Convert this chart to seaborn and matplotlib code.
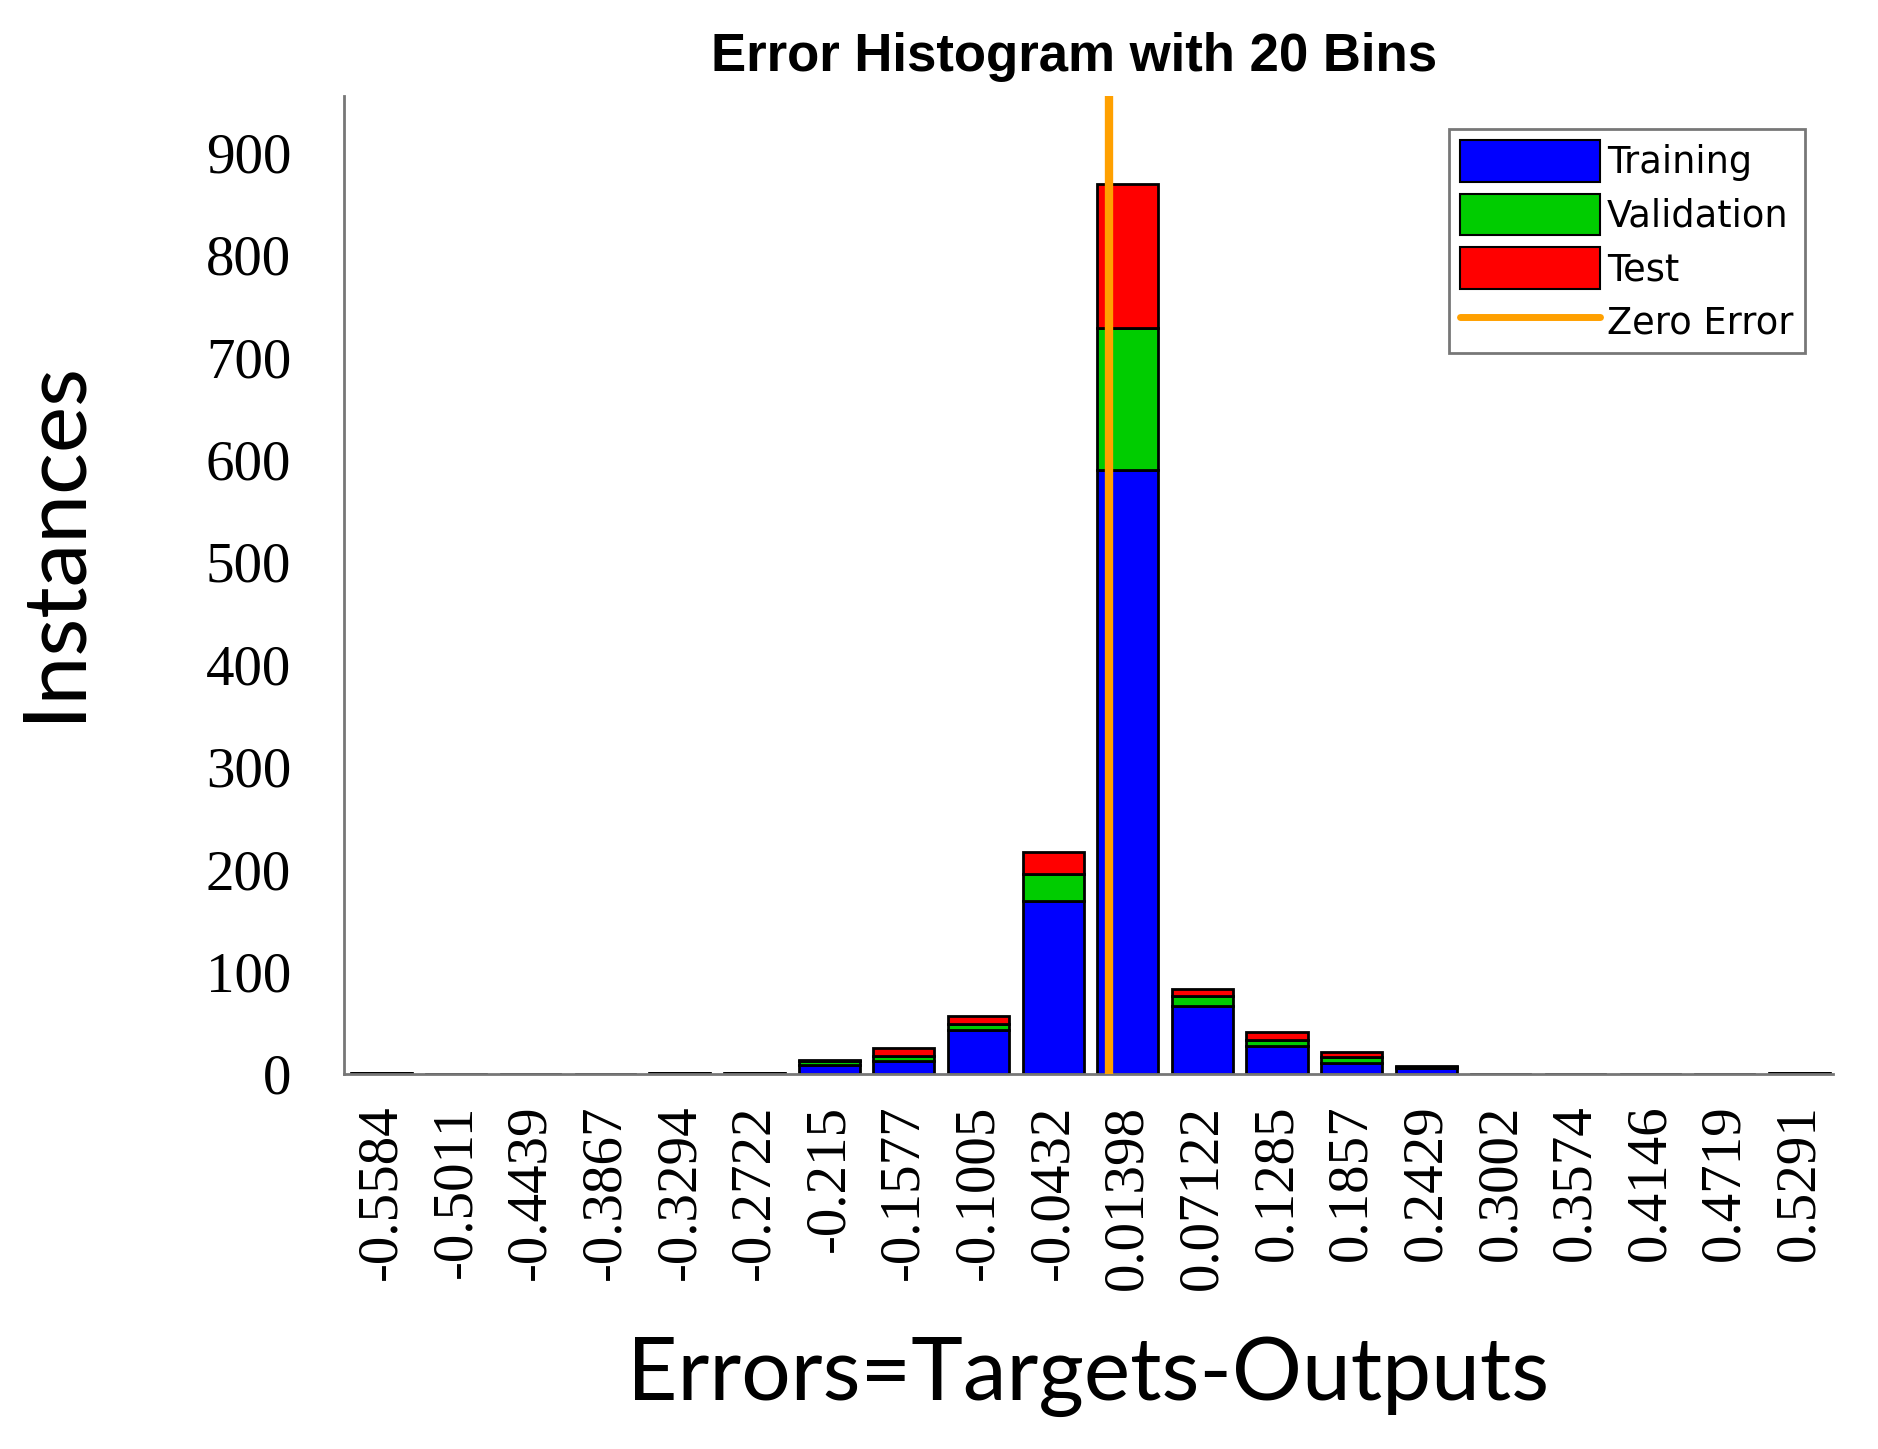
import pandas as pd
import matplotlib
matplotlib.use("Agg")
import matplotlib.pyplot as plt
from matplotlib.patches import Patch
from matplotlib.lines import Line2D
import seaborn as sns

# bin centres and tick labels as printed on the chart
centers = [-0.5584, -0.5011, -0.4439, -0.3867, -0.3294, -0.2722, -0.215, -0.1577,
           -0.1005, -0.0432, 0.01398, 0.07122, 0.1285, 0.1857, 0.2429, 0.3002,
           0.3574, 0.4146, 0.4719, 0.5291]
tick_labels = ["-0.5584", "-0.5011", "-0.4439", "-0.3867", "-0.3294", "-0.2722",
               "-0.215", "-0.1577", "-0.1005", "-0.0432", "0.01398", "0.07122",
               "0.1285", "0.1857", "0.2429", "0.3002", "0.3574", "0.4146",
               "0.4719", "0.5291"]

# instances per bin
training = [1, 0, 0, 0, 1, 1, 9, 13, 43, 169, 590, 66, 27, 11, 6, 0, 0, 0, 0, 1]
validation = [0, 0, 0, 0, 0, 0, 4, 5, 6, 26, 138, 10, 6, 6, 1, 0, 0, 0, 0, 0]
test = [0, 0, 0, 0, 0, 0, 1, 7, 8, 22, 141, 7, 8, 4, 1, 0, 0, 0, 0, 0]

set_names = ["Training", "Validation", "Test"]
colors = {"Training": "#0000FF", "Validation": "#00CC00", "Test": "#FF0000"}
zero_color = "#FFA000"

df = pd.DataFrame({
    "error": centers * 3,
    "count": training + validation + test,
    "set": ["Training"] * 20 + ["Validation"] * 20 + ["Test"] * 20,
})

width = (centers[-1] - centers[0]) / (len(centers) - 1)
edges = [c - width / 2 for c in centers] + [centers[-1] + width / 2]

sns.set_theme(style="white")
plt.rcParams["text.color"] = "black"
plt.rcParams["axes.labelcolor"] = "black"

fig = plt.figure(figsize=(18.78, 14.49), dpi=100)
ax = fig.add_axes([344 / 1878, 1 - 1074 / 1449, 1489 / 1878, 978 / 1449])

# hue order reversed so Training ends up at the bottom of each stack
sns.histplot(data=df, x="error", weights="count", hue="set",
             hue_order=set_names[::-1], palette=colors, multiple="stack",
             bins=edges, shrink=0.82, alpha=1, edgecolor="black",
             linewidth=2, legend=False, ax=ax)

ax.axvline(0, color=zero_color, lw=6, zorder=5)

ax.set_xlim(centers[0] - 0.5 * width, centers[-1] + 0.45 * width)
ax.set_ylim(0, 955)
ax.set_yticks(range(0, 901, 100))
ax.set_xticks(centers)
ax.set_xticklabels(tick_labels, rotation=90, va="top")

for lab in ax.get_xticklabels() + ax.get_yticklabels():
    lab.set_family("Liberation Serif")
    lab.set_fontsize(41)
ax.tick_params(axis="x", direction="in", length=8, width=1.5, pad=22, colors="black")
ax.tick_params(axis="y", direction="in", length=8, width=1.5, pad=38, colors="black")

for side in ["top", "right"]:
    ax.spines[side].set_visible(False)
for side in ["left", "bottom"]:
    ax.spines[side].set_color("#777777")
    ax.spines[side].set_linewidth(2)

ax.set_ylabel("Instances", family="Lato", fontsize=63)
ax.set_xlabel("Errors=Targets-Outputs", family="Lato", fontsize=63)
ax.yaxis.set_label_coords(-0.168, 0.545)
ax.xaxis.set_label_coords(0.5, -0.268)

fig.text(1074 / 1878, 1 - 57 / 1449, "Error Histogram with 20 Bins",
         family="Liberation Sans", fontweight="bold", fontsize=38,
         ha="center", va="center")

handles = [Patch(facecolor=colors[s], edgecolor="black", linewidth=1.5) for s in set_names]
handles.append(Line2D([0], [0], color=zero_color, lw=5))
leg = ax.legend(handles, set_names + ["Zero Error"], loc="upper right",
                bbox_to_anchor=(0.981, 0.966), frameon=True, fancybox=False,
                prop={"family": "DejaVu Sans", "size": 26.5},
                handlelength=3.8, handleheight=1.35, handletextpad=0.2,
                labelspacing=0.33, borderpad=0.3, borderaxespad=0)
leg.get_frame().set_edgecolor("#555555")
leg.get_frame().set_linewidth(2)

fig.savefig("out.png", dpi=100)
